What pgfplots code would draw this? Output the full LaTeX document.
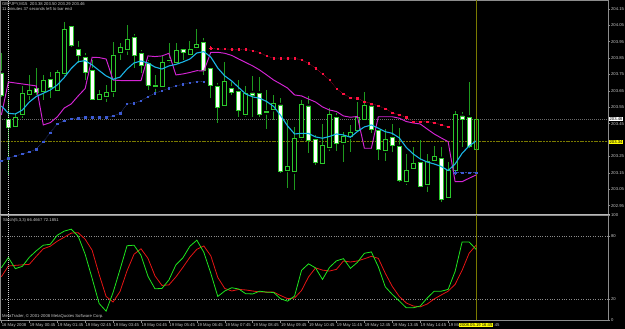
\documentclass[border=0pt]{standalone}
\usepackage{fontspec}
\setmainfont{Liberation Sans}
\usepackage{pgfplots}
\pgfplotsset{compat=1.18}
\usepackage{pgfplotstable}
\newcommand\mt{\fontsize{4.2}{5}\selectfont}
\definecolor{frame}{HTML}{8C8C8C}
\definecolor{sepc}{HTML}{B8B8B8}
\definecolor{lab}{HTML}{C8C8C8}
\definecolor{wick}{HTML}{1E9A1E}
\definecolor{body}{HTML}{2CC82C}
\definecolor{cy}{HTML}{1AB4E6}
\definecolor{mg}{HTML}{D424D4}
\definecolor{sarb}{HTML}{3C5AD2}
\definecolor{sarbl}{HTML}{2E429A}
\definecolor{sarr}{HTML}{FF1040}
\definecolor{sarrl}{HTML}{A00028}
\definecolor{stk}{HTML}{1EE61E}
\definecolor{std}{HTML}{E61414}
\definecolor{olv}{HTML}{7A7A00}
\definecolor{bidg}{HTML}{6A6A6A}
\definecolor{yel}{HTML}{FFFF00}

\pgfplotstableread{
i O H L C
0 203.759 203.881 203.613 203.625
1 203.478 203.594 203.137 203.430
2 203.436 203.515 203.430 203.491
3 203.509 203.680 203.484 203.637
4 203.631 203.747 203.594 203.655
5 203.666 203.789 203.625 203.639
6 203.645 203.747 203.594 203.716
7 203.722 203.765 203.606 203.674
8 203.655 203.777 203.643 203.761
9 203.759 204.072 203.741 204.025
10 204.041 204.052 203.917 203.925
11 203.905 203.954 203.820 203.869
12 203.855 203.881 203.716 203.765
13 203.777 203.838 203.594 203.597
14 203.600 203.655 203.588 203.629
15 203.614 203.686 203.584 203.639
16 203.649 203.948 203.613 203.869
17 203.885 203.940 203.838 203.916
18 203.903 204.052 203.869 203.964
19 203.974 203.997 203.789 203.864
20 203.879 203.899 203.759 203.803
21 203.818 203.838 203.655 203.686
22 203.675 203.747 203.645 203.682
23 203.680 203.863 203.674 203.822
24 203.835 203.944 203.817 203.838
25 203.822 203.942 203.817 203.895
26 203.905 203.919 203.838 203.885
27 203.875 203.954 203.869 203.903
28 203.913 204.025 203.899 203.934
29 203.944 203.972 203.747 203.773
30 203.788 203.797 203.606 203.686
31 203.675 203.698 203.454 203.547
32 203.564 203.826 203.558 203.706
33 203.666 203.704 203.625 203.639
34 203.645 203.716 203.492 203.529
35 203.507 203.680 203.491 203.637
36 203.637 203.741 203.491 203.625
37 203.635 203.734 203.491 203.509
38 203.518 203.655 203.417 203.526
39 203.538 203.625 203.472 203.574
40 203.564 203.606 203.149 203.157
41 203.167 203.472 203.058 203.192
42 203.157 203.430 203.045 203.361
43 203.367 203.594 203.350 203.568
44 203.558 203.619 203.271 203.346
45 203.356 203.381 203.198 203.214
46 203.208 203.448 203.198 203.320
47 203.306 203.545 203.283 203.507
48 203.489 203.515 203.283 203.330
49 203.336 203.399 203.218 203.372
50 203.370 203.442 203.279 203.395
51 203.407 203.584 203.401 203.489
52 203.477 203.645 203.472 203.564
53 203.558 203.576 203.393 203.416
54 203.407 203.424 203.228 203.294
55 203.285 203.416 203.224 203.355
56 203.367 203.448 203.277 203.318
57 203.309 203.424 203.094 203.106
58 203.096 203.265 203.076 203.167
59 203.178 203.308 203.167 203.208
60 203.214 203.350 203.064 203.070
61 203.080 203.265 203.035 203.218
62 203.224 203.314 203.210 203.249
63 203.236 203.309 202.974 202.989
64 203.001 203.216 202.992 203.163
65 203.167 203.527 203.155 203.507
66 203.497 203.523 203.309 203.478
67 203.489 203.706 203.300 203.309
68 203.294 203.478 203.289 203.478
}\candles

\pgfplotstableread{
i cy mg
0 203.558 203.503
1 203.513 203.704
2 203.509 203.698
3 203.533 203.692
4 203.582 203.686
5 203.616 203.680
6 203.635 203.442
7 203.655 203.456
8 203.686 203.491
9 203.731 203.545
10 203.786 203.570
11 203.828 203.619
12 203.834 203.664
13 203.808 203.855
14 203.774 203.853
15 203.741 203.844
16 203.720 203.716
17 203.734 203.713
18 203.783 203.712
19 203.820 203.712
20 203.832 203.712
21 203.820 203.863
22 203.795 203.859
23 203.783 203.863
24 203.802 203.879
25 203.811 203.747
26 203.826 203.753
27 203.844 203.762
28 203.881 203.773
29 203.889 203.771
30 203.856 203.885
31 203.789 203.885
32 203.741 203.879
33 203.710 203.866
34 203.670 203.844
35 203.631 203.823
36 203.613 203.802
37 203.605 203.777
38 203.585 203.747
39 203.555 203.716
40 203.500 203.692
41 203.436 203.667
42 203.387 203.625
43 203.391 203.619
44 203.390 203.600
45 203.369 203.582
46 203.361 203.552
47 203.372 203.533
48 203.387 203.524
49 203.381 203.497
50 203.367 203.489
51 203.402 203.494
52 203.430 203.300
53 203.442 203.300
54 203.422 203.492
55 203.401 203.492
56 203.391 203.492
57 203.363 203.483
58 203.305 203.463
59 203.265 203.454
60 203.235 203.448
61 203.216 203.417
62 203.204 203.387
63 203.189 203.363
64 203.164 203.340
65 203.204 203.096
66 203.269 203.096
67 203.314 203.117
68 203.344 203.137
}\lines

\pgfplotstableread{
i v
0 203.222
1 203.239
2 203.253
3 203.265
4 203.277
5 203.295
6 203.340
7 203.395
8 203.448
9 203.468
10 203.480
11 203.483
12 203.489
13 203.489
14 203.489
15 203.489
16 203.497
17 203.513
18 203.570
19 203.574
20 203.590
21 203.614
22 203.635
23 203.651
24 203.666
25 203.680
26 203.690
27 203.700
28 203.706
29 203.706
}\sarblue

\pgfplotstableread{
i v
65 203.152
66 203.152
67 203.152
68 203.152
}\sarbluetail

\pgfplotstableread{
i v
30 203.909
31 203.905
32 203.905
33 203.903
34 203.903
35 203.903
36 203.895
37 203.884
38 203.863
39 203.849
40 203.849
41 203.849
42 203.849
43 203.838
44 203.818
45 203.788
46 203.753
47 203.716
48 203.664
49 203.631
50 203.608
51 203.605
52 203.584
53 203.573
54 203.558
55 203.542
56 203.517
57 203.503
58 203.488
59 203.462
60 203.462
61 203.462
62 203.456
63 203.442
64 203.431
}\sarred

\pgfplotstableread{
i K D
0 50.3 41.7
1 59.9 51.9
2 49.4 52.5
3 51.6 53.0
4 60.2 53.5
5 66.4 61.1
6 71.7 68.3
7 72.6 70.7
8 81.2 75.5
9 85.1 79.3
10 87.0 83.2
11 80.3 83.6
12 63.1 77.4
13 40.1 66.9
14 16.2 43.9
15 8.9 22.9
16 26.7 17.6
17 48.7 27.7
18 71.2 47.3
19 71.7 63.1
20 62.1 68.3
21 42.0 59.2
22 30.2 42.5
23 30.5 33.4
24 38.7 33.9
25 53.0 41.5
26 59.7 50.6
27 70.7 60.2
28 76.5 67.8
29 65.0 71.0
30 44.9 61.6
31 22.9 41.0
32 28.1 30.5
33 31.2 28.1
34 30.0 29.6
35 25.5 29.1
36 25.3 28.1
37 27.9 27.2
38 27.0 27.0
39 26.7 27.0
40 20.7 23.8
41 18.4 20.8
42 23.3 21.4
43 47.8 28.6
44 54.0 41.5
45 50.1 50.1
46 39.1 48.0
47 50.6 47.1
48 56.8 48.7
49 58.9 56.7
50 49.7 55.7
51 55.4 56.7
52 64.0 58.8
53 65.3 61.1
54 51.1 59.2
55 32.0 44.9
56 24.8 32.4
57 18.6 22.9
58 12.1 16.7
59 12.1 13.8
60 13.8 13.0
61 21.4 15.7
62 27.9 20.5
63 27.9 24.3
64 29.6 27.9
65 46.8 34.4
66 74.8 47.8
67 74.8 64.0
68 67.8 71.7
}\stoch

\pgfplotsset{
  mainax/.style={at={(0pt,115pt)}, anchor=south west, scale only axis,
    width=608pt, height=214pt, xmin=-0.2, xmax=86.9, ymin=202.899, ymax=204.204},
  stax/.style={at={(0pt,8.5pt)}, anchor=south west, scale only axis,
    width=608pt, height=105pt, xmin=-0.2, xmax=86.9, ymin=0, ymax=100},
  mtframe/.style={axis line style={draw=frame, line width=0.6pt},
    tick align=outside, major tick length=2.2pt,
    tick style={draw=frame, line width=0.5pt},
    tick label style={font=\mt, text=lab, inner sep=0.7pt},
    ytick pos=right, yticklabel pos=right},
}

\begin{document}
\begin{tikzpicture}
\useasboundingbox (0pt,0pt) rectangle (625pt,329pt);
\fill[black] (0pt,0pt) rectangle (625pt,329pt);

% level lines and wicks
\begin{axis}[mainax, hide axis]
\addplot[draw=bidg, line width=0.5pt, dash pattern=on 1pt off 1pt] coordinates {(-0.2,203.478) (86.9,203.478)};
\addplot[draw=olv, line width=1pt, dash pattern=on 2pt off 0.8pt] coordinates {(-0.2,203.340) (86.9,203.340)};
\addplot[only marks, mark=none, error bars/.cd, y dir=both, y explicit, error mark=none,
  error bar style={draw=wick, line width=0.75pt, solid}]
  table[x=i, y=O, y error plus expr=\thisrow{H}-\thisrow{O}, y error minus expr=\thisrow{O}-\thisrow{L}] {\candles};
\end{axis}

% candle bodies
\begin{axis}[mainax, hide axis, ybar stacked, bar width=4pt]
\addplot[draw=none, fill=none] table[x=i, y expr={min(\thisrow{O},\thisrow{C})}] {\candles};
\addplot[draw=body, fill=black, line width=0.7pt] table[x=i, y expr={max(\thisrow{C}-\thisrow{O},0)}] {\candles};
\addplot[draw=body, fill=white, line width=0.7pt] table[x=i, y expr={max(\thisrow{O}-\thisrow{C},0)}] {\candles};
\end{axis}

% main frame and indicators
\begin{axis}[mainax, mtframe, xtick=\empty,
  ytick={202.95,203.05,203.15,203.25,203.45,203.55,203.65,203.75,203.85,203.95,204.05,204.15},
  yticklabels={202.95,203.05,203.15,203.25,203.45,203.55,203.65,203.75,203.85,203.95,204.05,204.15}]
\addplot[draw=mg, line width=0.95pt] table[x=i, y=mg] {\lines};
\addplot[draw=cy, line width=1.1pt] table[x=i, y=cy] {\lines};
\addplot[draw=sarbl, line width=0.5pt, dash pattern=on 0.8pt off 0.8pt, mark=square*, mark size=0.7pt,
  mark options={solid, fill=sarb, draw=sarb}] table[x=i, y=v] {\sarblue};
\addplot[draw=sarbl, line width=0.5pt, dash pattern=on 0.8pt off 0.8pt, mark=square*, mark size=0.7pt,
  mark options={solid, fill=sarb, draw=sarb}] table[x=i, y=v] {\sarbluetail};
\addplot[draw=sarrl, line width=0.5pt, dash pattern=on 0.8pt off 0.8pt, mark=square*, mark size=0.7pt,
  mark options={solid, fill=sarr, draw=sarr}] table[x=i, y=v] {\sarred};
\addplot[only marks, mark=+, mark size=2.2pt, mark options={draw=sarr, line width=0.8pt}] coordinates {(30,203.911)};
\addplot[only marks, mark=+, mark size=2.2pt, mark options={draw=sarb, line width=0.8pt}] coordinates {(65,203.152)};
\draw[draw=lab!80, line width=0.5pt, dash pattern=on 0.8pt off 1.2pt] (axis cs:1,202.899) -- (axis cs:1,204.204);
\draw[draw=olv, line width=0.7pt] (axis cs:68,202.899) -- (axis cs:68,204.204);
\coordinate (bidR) at (axis cs:86.9,203.478);
\coordinate (olvR) at (axis cs:86.9,203.340);
\end{axis}

% stochastic panel
\begin{axis}[stax, mtframe,
  ytick={0,20,80,100}, yticklabels={0,20,80,100},
  ymajorgrids, grid style={draw=frame, line width=0.5pt, dash pattern=on 0.8pt off 1.6pt},
  xtick={0,4,...,64},
  xticklabels={16 May 2008,19 May 00:45,19 May 01:45,19 May 02:45,19 May 03:45,19 May 04:45,19 May 05:45,19 May 06:45,19 May 07:45,19 May 08:45,19 May 09:45,19 May 10:45,19 May 11:45,19 May 12:45,19 May 13:45,19 May 14:45,19 Ma},
  xtick pos=bottom, xticklabel pos=bottom,
  xticklabel style={anchor=north west, xshift=-0.4pt}]
\addplot[draw=std, line width=0.8pt] table[x=i, y=D] {\stoch};
\addplot[draw=stk, line width=0.8pt] table[x=i, y=K] {\stoch};
\draw[draw=lab!80, line width=0.5pt, dash pattern=on 0.8pt off 1.2pt] (axis cs:1,0) -- (axis cs:1,100);
\draw[draw=olv, line width=0.7pt] (axis cs:68,0) -- (axis cs:68,100);
\coordinate (tbox) at (axis cs:68,0);
\end{axis}

% panel separator
\draw[draw=sepc, line width=1.5pt] (0pt,114.3pt) -- (610pt,114.3pt);

% price and time boxes
\node[fill=white, text=black, font=\mt, inner sep=0.6pt, anchor=west] at ([xshift=0.8pt]bidR) {203.46};
\node[fill=yel, text=black, font=\mt, inner sep=0.6pt, anchor=west] at ([xshift=0.8pt]olvR) {203.34};
\node[fill=yel, text=black, font=\mt, inner sep=0.6pt, anchor=north] (tb) at ([yshift=-2.4pt]tbox) {2008.05.19 16:45};
\node[font=\mt, text=lab, anchor=west, inner sep=0.3pt] at (tb.east) {:45};

% texts
\node[font=\mt, text=lab, anchor=west, inner sep=0pt] at (2pt,324.3pt) {GBPJPY,M15\ \ 203.38 203.50 203.29 203.46};
\node[font=\mt, text=lab, anchor=west, inner sep=0pt] at (2pt,319.6pt) {11 minutes 37 seconds left to bar end};
\node[font=\mt, text=lab, anchor=west, inner sep=0pt] at (3pt,109pt) {Stoch(5,3,3) 66.4667 72.1851};
\node[font=\mt, text=lab, anchor=west, inner sep=0pt] at (2pt,12.5pt) {MetaTrader, © 2001-2008 MetaQuotes Software Corp.};
\end{tikzpicture}
\end{document}
